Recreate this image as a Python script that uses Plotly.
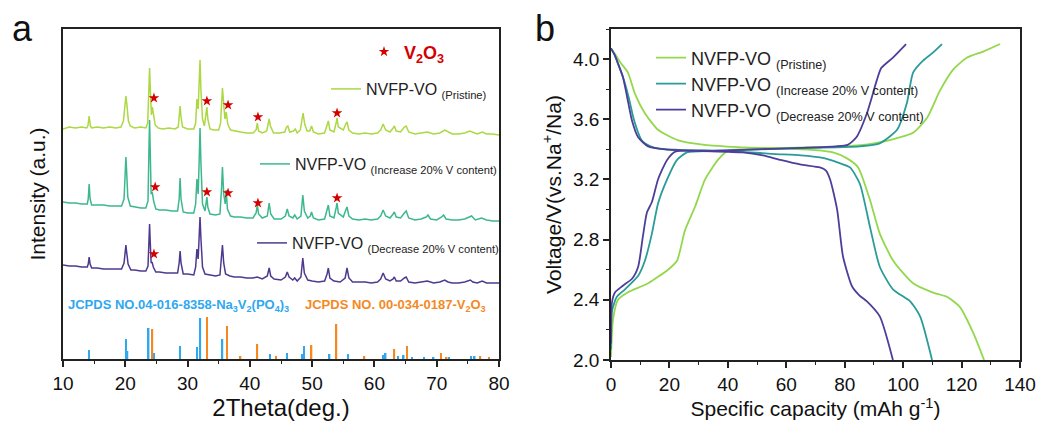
import plotly.graph_objects as go

FONT = "Arial, Liberation Sans, sans-serif"

# ---------------- Panel a: XRD (2theta, intensity a.u.) ----------------
xrd_pristine = [(10.0,230),(11,232),(12,231),(13,232),(13.8,231),(14.0,233),(14.2,243),(14.4,233),(14.6,231),(15.5,232),(16.5,231),(17.5,232),(18.5,231),(19.3,232),(19.7,238),(20.0,256),(20.1,263),(20.25,255),(20.5,238),(20.8,233),(21.5,231),(22.5,232),(23.3,231),(23.6,236),(23.8,270),(23.9,291),(24.05,265),(24.2,244),(24.35,252),(24.5,246),(24.8,234),(25.3,231),(26,230),(27,231),(28,230),(28.5,232),(28.7,244),(28.8,253),(28.95,242),(29.2,232),(30,230),(31,230),(31.3,236),(31.5,260),(31.7,250),(31.85,270),(32.0,299),(32.15,268),(32.4,240),(32.7,233),(33.0,245),(33.1,252),(33.25,240),(33.6,230),(34.2,229),(35.0,229),(35.3,236),(35.5,262),(35.6,271),(35.8,255),(36.0,240),(36.2,247),(36.45,235),(36.9,229),(37.5,228),(38.5,227),(39.5,226),(40.5,226),(41.0,229),(41.2,236),(41.4,228),(42.0,226),(42.7,228),(43.0,237),(43.1,240),(43.3,233),(43.8,226),(44.8,226),(45.6,227),(45.9,232),(46.1,233),(46.4,227),(47.0,228),(47.3,230),(47.6,226),(48.1,229),(48.4,242),(48.55,246),(48.8,235),(49.2,228),(49.6,228),(49.9,233),(50.2,227),(51.0,225),(52.0,226),(52.4,233),(52.6,238),(52.85,229),(53.5,227),(53.85,236),(54.0,241),(54.2,232),(55.0,229),(55.4,235),(55.6,237),(55.9,229),(56.5,226),(57.5,225),(58.5,226),(59.5,225),(60.5,226),(61.0,229),(61.4,235),(61.8,229),(62.5,227),(63.0,231),(63.2,233),(63.5,228),(64.2,227),(64.8,232),(65.1,233),(65.5,227),(66.5,225),(67.5,226),(68.5,227),(69.5,225),(70.5,226),(71.3,229),(71.6,228),(72.5,225),(73.5,225),(74.5,226),(75.3,228),(75.7,227),(76.5,225),(77.3,227),(78,225),(79,225),(80,224)]

xrd_increase = [(10,157),(11,156),(12,156),(13,155),(13.9,155),(14.05,160),(14.2,175),(14.35,160),(14.6,154),(15.5,154),(16.5,154),(17.5,153),(18.5,153),(19.4,153),(19.8,160),(20.0,190),(20.1,202),(20.2,190),(20.4,162),(20.8,153),(21.5,152),(22.5,151),(23.3,151),(23.65,158),(23.8,210),(23.9,239),(24.0,210),(24.15,165),(24.35,166),(24.55,158),(24.9,150),(25.5,149),(26.5,149),(27.5,148),(28.4,148),(28.65,160),(28.8,181),(28.95,160),(29.3,147),(30,146),(31,146),(31.3,155),(31.5,180),(31.7,165),(31.85,195),(32.0,231),(32.15,195),(32.4,155),(32.8,148),(33.0,157),(33.1,162),(33.25,152),(33.6,145),(34.5,144),(35.2,145),(35.45,170),(35.6,192),(35.8,165),(36.05,155),(36.2,169),(36.4,150),(36.9,143),(37.5,142),(38.5,142),(39.5,141),(40.5,141),(41.0,146),(41.2,154),(41.4,145),(42.0,141),(42.8,143),(43.1,156),(43.35,145),(43.9,140),(45,140),(45.7,143),(46.0,150),(46.3,143),(46.9,141),(47.2,144),(47.6,140),(48.2,143),(48.5,164),(48.75,148),(49.3,141),(49.7,143),(49.9,147),(50.2,141),(51,139),(52,140),(52.4,148),(52.6,154),(52.85,143),(53.5,141),(53.85,151),(54.0,156),(54.2,146),(55.0,142),(55.4,149),(55.6,152),(55.9,143),(56.5,140),(57.5,139),(58.5,140),(59.5,139),(60.5,140),(61.0,143),(61.4,149),(61.8,143),(62.5,141),(63.0,145),(63.2,147),(63.5,142),(64.2,141),(64.8,146),(65.1,148),(65.5,141),(66.5,139),(67.5,140),(68.3,142),(68.6,144),(69,140),(70,139),(70.8,142),(71.1,144),(71.5,140),(72.5,139),(73.5,139),(74.5,140),(75.3,142),(75.6,143),(76.2,139),(77.2,141),(78,139),(79,138),(80,138)]

xrd_decrease = [(10,94),(11,93),(12,93),(13,92),(13.9,92),(14.05,95),(14.2,102),(14.35,95),(14.6,91),(15.5,91),(16.5,90),(17.5,90),(18.5,90),(19.4,90),(19.8,96),(20.0,110),(20.1,114),(20.2,108),(20.45,95),(20.9,89),(21.5,89),(22.5,88),(23.3,88),(23.65,93),(23.8,120),(23.9,135),(24.0,118),(24.15,96),(24.3,97),(24.5,92),(24.9,87),(25.5,87),(26.5,86),(27.5,86),(28.4,86),(28.65,96),(28.8,108),(28.95,96),(29.3,85),(30,85),(31,84),(31.3,92),(31.5,110),(31.7,100),(31.85,120),(32.0,142),(32.15,120),(32.4,92),(32.8,85),(33.5,84),(34.5,83),(35.2,84),(35.45,100),(35.6,114),(35.8,96),(36.1,85),(36.8,83),(37.5,82),(38.5,82),(39.5,81),(40.5,81),(41.2,82),(42,80),(42.8,83),(43.1,91),(43.35,83),(43.9,80),(45,79),(45.7,82),(46.0,87),(46.3,82),(46.9,79),(47.2,81),(47.6,78),(48.2,82),(48.5,101),(48.75,86),(49.3,79),(50,78),(51,77),(52,78),(52.4,85),(52.6,91),(52.85,81),(53.5,78),(54.5,77),(55.3,81),(55.6,91),(55.9,81),(56.5,77),(57.5,77),(58.5,77),(59.5,76),(60.5,77),(61.0,80),(61.4,86),(61.8,80),(62.5,78),(63.0,80),(63.2,82),(63.5,78),(64.2,78),(64.8,81),(65.1,82),(65.5,77),(66.5,76),(67.5,77),(68.5,78),(69.5,76),(70.5,77),(71.3,79),(71.8,77),(72.5,76),(73.5,76),(74.5,77),(75.4,79),(75.8,77),(76.5,76),(77.3,78),(78,76),(79,76),(80,76)]

# V2O3 star markers (2theta, intensity)
stars_pristine = [(24.6,261),(33.1,258),(36.5,254),(41.3,242),(54.0,246)]
stars_increase = [(24.8,172),(33.1,167),(36.5,166),(41.3,156),(54.0,161)]
stars_decrease = [(24.6,105)]

# Reference sticks (2theta, relative height)
nvp_pos = [14.2,20.1,20.35,23.75,24.6,28.8,31.5,32.05,35.6,43.2,46.0,48.4,48.7,52.8,55.8,61.4,61.8,63.8,64.7,66.0,68.0,69.5,72.0,75.5,76.1,77.0]
nvp_h   = [9,20,8,31,6,13,12,41,20,5,6,5,13,5,5,4,6,3,4,2,2,2,2,3,3,3]
v2o3_pos = [24.35,33.1,36.3,38.5,41.2,44.2,49.9,53.9,58.4,63.2,65.2,70.7,71.6,77.0,78.4]
v2o3_h   = [30,42,33,3,15,3,14,35,3,10,13,6,2,3,2]

# ---------------- Panel b: charge/discharge (capacity mAh/g, voltage V) ----------------
dis_pristine = [(0,4.07),(1.5,4.03),(3.1,3.98),(5.8,3.91),(8.2,3.77),(11.6,3.64),(16.1,3.53),(23,3.46),(32,3.43),(43.5,3.415),(60,3.405),(70,3.395),(76,3.38),(80.8,3.34),(84.6,3.28),(88.7,3.06),(92,2.84),(96.6,2.66),(103.4,2.51),(110,2.45),(115,2.42),(119.5,2.35),(124,2.18),(127.7,2.0)]
chg_pristine = [(0,2.02),(0.7,2.27),(2.4,2.40),(5.8,2.45),(12.7,2.51),(19.5,2.60),(22.6,2.66),(25.3,2.86),(28.8,3.02),(32.2,3.20),(36.6,3.33),(40,3.39),(45,3.40),(60,3.41),(80,3.42),(90,3.44),(97.9,3.475),(103.4,3.51),(108.2,3.61),(112.6,3.79),(117.1,3.93),(121.9,4.01),(127.4,4.05),(133.2,4.10)]
dis_increase = [(0,4.07),(1.2,4.03),(2.4,3.97),(4.1,3.88),(6,3.75),(7.8,3.60),(10.5,3.46),(13.5,3.42),(16.5,3.405),(25,3.395),(40,3.39),(55,3.37),(65,3.36),(72,3.345),(75,3.33),(78,3.31),(81.8,3.28),(85.2,3.17),(88.7,2.88),(92,2.62),(96.5,2.47),(102.4,2.39),(105.8,2.29),(109.9,2.0)]
chg_increase = [(0,2.07),(0.4,2.33),(2,2.42),(4.8,2.47),(9.3,2.56),(11.6,2.66),(14,2.84),(16.1,3.04),(19.2,3.20),(22.6,3.33),(26,3.38),(35,3.39),(50,3.40),(70,3.41),(85,3.42),(92,3.44),(97.9,3.53),(101.3,3.71),(103.4,3.91),(106.8,3.99),(110,4.04),(113.3,4.10)]
dis_decrease = [(0,4.07),(1.2,4.03),(2.4,3.97),(4.1,3.88),(5.5,3.75),(7.2,3.59),(9.3,3.48),(12.7,3.42),(18.5,3.40),(30,3.39),(45,3.38),(52,3.36),(58,3.33),(64.7,3.30),(71.5,3.28),(73.5,3.26),(75,3.20),(77.4,3.00),(79.4,2.69),(82.5,2.49),(85,2.43),(87.6,2.39),(92,2.29),(96.5,2.0)]
chg_decrease = [(0,2.11),(0.3,2.38),(1.4,2.45),(3.8,2.49),(7.2,2.54),(9.3,2.62),(10.9,2.82),(12.3,2.98),(14,3.05),(16.1,3.20),(19.2,3.33),(22,3.385),(35,3.39),(50,3.40),(65,3.41),(77,3.42),(81,3.43),(84,3.48),(87.6,3.64),(91,3.86),(92.5,3.94),(96.5,4.01),(101,4.10)]

labels = ["NVFP-VO <sub>(Pristine)</sub>",
          "NVFP-VO <sub>(Increase 20% V content)</sub>",
          "NVFP-VO <sub>(Decrease 20% V content)</sub>"]

C_A = ["#acd843", "#3db88c", "#4d3a8f"]
C_B = ["#93d84c", "#2a9c98", "#4b3f99"]
STAR = "#d40000"

def xs(p): return [a for a, _ in p]
def ys(p): return [b for _, b in p]

fig = go.Figure()

# reference sticks
fig.add_trace(go.Bar(x=nvp_pos, y=nvp_h, width=0.25, marker=dict(color="#2ea8f0", line=dict(width=0)),
                     showlegend=False, xaxis="x", yaxis="y"))
fig.add_trace(go.Bar(x=v2o3_pos, y=v2o3_h, width=0.25, marker=dict(color="#f5891f", line=dict(width=0)),
                     showlegend=False, xaxis="x", yaxis="y"))

# XRD curves
for data, col, lab, lg in [(xrd_pristine, C_A[0], labels[0], "legend"),
                           (xrd_increase, C_A[1], labels[1], "legend2"),
                           (xrd_decrease, C_A[2], labels[2], "legend3")]:
    fig.add_trace(go.Scatter(x=xs(data), y=ys(data), mode="lines", line=dict(color=col, width=1.5),
                             name=lab, legend=lg, xaxis="x", yaxis="y"))

# stars
fig.add_trace(go.Scatter(x=xs(stars_pristine), y=ys(stars_pristine), mode="markers",
                         marker=dict(symbol="star", size=8, color=STAR), name="<b>V<sub>2</sub>O<sub>3</sub></b>",
                         legend="legend4", xaxis="x", yaxis="y"))
for s in (stars_increase, stars_decrease):
    fig.add_trace(go.Scatter(x=xs(s), y=ys(s), mode="markers", marker=dict(symbol="star", size=8, color=STAR),
                             showlegend=False, xaxis="x", yaxis="y"))

# charge / discharge
for (dis, chg), col, lab, lg in [((dis_pristine, chg_pristine), C_B[0], labels[0], "legend5"),
                                 ((dis_increase, chg_increase), C_B[1], labels[1], "legend6"),
                                 ((dis_decrease, chg_decrease), C_B[2], labels[2], "legend7")]:
    fig.add_trace(go.Scatter(x=xs(dis), y=ys(dis), mode="lines", line=dict(color=col, width=1.8, shape="spline", smoothing=0.6),
                             name=lab, legend=lg, legendgroup=lab, xaxis="x2", yaxis="y2"))
    fig.add_trace(go.Scatter(x=xs(chg), y=ys(chg), mode="lines", line=dict(color=col, width=1.8, shape="spline", smoothing=0.6),
                             name=lab, showlegend=False, legendgroup=lab, xaxis="x2", yaxis="y2"))

W, H = 1043, 428
def px(x): return x / W
def py(y): return (H - y) / H

axis_common = dict(showline=True, mirror=True, linecolor="#222", linewidth=1.6, showgrid=False, zeroline=False,
                   automargin=False, tickfont=dict(family=FONT, size=19, color="#111"))

def leg(x, y, size, color="#222"):
    return dict(x=px(x), y=py(y), xanchor="left", yanchor="middle", bgcolor="rgba(0,0,0,0)",
                borderwidth=0, font=dict(family=FONT, size=size, color=color), itemclick=False)

fig.update_layout(
    width=W, height=H, margin=dict(l=0, r=0, t=0, b=0, autoexpand=False),
    paper_bgcolor="white", plot_bgcolor="white", barmode="overlay",
    font=dict(family=FONT, color="#111"),
    xaxis=dict(domain=[px(63), px(499)], range=[10, 80], dtick=10, ticks="outside", ticklen=6, tickwidth=1.5,
               tickcolor="#222", anchor="y",
               minor=dict(dtick=5, ticks="outside", ticklen=3, tickwidth=1.2, tickcolor="#222"),
               title=dict(text="2Theta(deg.)", font=dict(family=FONT, size=24, color="#111"), standoff=3),
               **axis_common),
    yaxis=dict(domain=[py(359), py(29)], range=[0, 330], showticklabels=False, ticks="", anchor="x",
               title=dict(text="Intensity (a.u.)", font=dict(family=FONT, size=21, color="#111"), standoff=10),
               **axis_common),
    xaxis2=dict(domain=[px(611), px(1020)], range=[0, 140], dtick=20, ticks="outside", ticklen=6, tickwidth=1.5,
                tickcolor="#222", anchor="y2",
                minor=dict(dtick=10, ticks="outside", ticklen=3, tickwidth=1.2, tickcolor="#222"),
                title=dict(text="Specific capacity (mAh g<sup>-1</sup>)", font=dict(family=FONT, size=21, color="#111"), standoff=8),
                **axis_common),
    yaxis2=dict(domain=[py(360), py(29)], range=[2.0, 4.2], tick0=2.0, dtick=0.4, tickformat=".1f", ticks="outside",
                ticklen=6, tickwidth=1.5, tickcolor="#222", anchor="x2",
                minor=dict(dtick=0.2, ticks="outside", ticklen=3, tickwidth=1.2, tickcolor="#222"),
                title=dict(text="Voltage/V(vs.Na<sup>+</sup>/Na)", font=dict(family=FONT, size=21, color="#111"), standoff=6),
                **axis_common),
    legend=leg(326, 89, 16),
    legend2=leg(255, 164, 16),
    legend3=leg(252, 243, 16),
    legend4=leg(364, 52, 18, STAR),
    legend5=leg(651, 58, 18),
    legend6=leg(651, 84, 18),
    legend7=leg(651, 110, 18),
    annotations=[
        dict(text="a", x=px(22), y=py(28), xref="paper", yref="paper", showarrow=False,
             font=dict(family=FONT, size=36, color="#111"), xanchor="center", yanchor="middle"),
        dict(text="b", x=px(545), y=py(28), xref="paper", yref="paper", showarrow=False,
             font=dict(family=FONT, size=36, color="#111"), xanchor="center", yanchor="middle"),
        dict(text="<b>JCPDS NO.04-016-8358-Na<sub>3</sub>V<sub>2</sub>(PO<sub>4</sub>)<sub>3</sub></b>",
             x=px(66), y=py(305), xref="paper", yref="paper", showarrow=False, xanchor="left", yanchor="middle",
             font=dict(family=FONT, size=13, color="#2ea8f0")),
        dict(text="<b>JCPDS NO. 00-034-0187-V<sub>2</sub>O<sub>3</sub></b>",
             x=px(303), y=py(305), xref="paper", yref="paper", showarrow=False, xanchor="left", yanchor="middle",
             font=dict(family=FONT, size=13, color="#f5891f")),
    ],
)

fig.write_html("out.html", config={"displayModeBar": False})
